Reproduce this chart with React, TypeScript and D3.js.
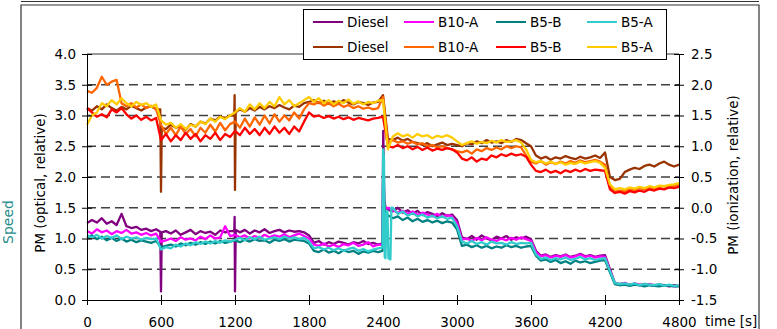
import React, { useEffect, useRef } from "react";
import * as d3 from "d3";

const W = 777;
const H = 329;

// sampling grid of the recorded traces (s)
const timeGrid = d3.range(0, 4801, 40);

const xTicks = [0, 600, 1200, 1800, 2400, 3000, 3600, 4200, 4800];
const yTicksLeft = [0, 0.5, 1, 1.5, 2, 2.5, 3, 3.5, 4];
const yTicksRight = [-1.5, -1, -0.5, 0, 0.5, 1, 1.5, 2, 2.5];
const gridLevels = [0.5, 1, 1.5, 2, 2.5, 3, 3.5];

// PM optical, relative (left axis)
const dieselOpt = [
  1.25, 1.3, 1.26, 1.33, 1.24, 1.28, 1.22, 1.4, 1.2, 1.17, 1.19, 1.14, 1.16, 1.12, 1.15,
  1.1, 1.12, 1.08, 1.13, 1.06, 1.1, 1.14, 1.07, 1.12, 1.09, 1.11, 1.06, 1.13, 1.1, 1.12,
  1.16, 1.1, 1.14, 1.08, 1.13, 1.1, 1.15, 1.09, 1.12, 1.14, 1.1, 1.13, 1.11, 1.12, 1.1,
  1.05, 0.93, 0.96, 0.9, 0.94, 0.91, 0.95, 0.93, 0.9, 0.94, 0.92, 0.96, 0.91, 0.93, 0.9,
  2.75, 1.47, 1.44, 1.5, 1.42, 1.46, 1.4, 1.45, 1.38, 1.43, 1.4, 1.36, 1.41, 1.37, 1.39,
  1.3, 1.02, 0.99, 1.04, 0.98, 1.05, 1.0, 0.97, 1.03, 1.0, 1.04, 0.98, 1.02, 1.0, 1.03,
  0.99, 0.8, 0.72, 0.74, 0.7, 0.73, 0.71, 0.74, 0.7, 0.72, 0.75, 0.71, 0.73, 0.7, 0.72,
  0.73, 0.5, 0.28, 0.26, 0.27, 0.25, 0.26, 0.24, 0.26, 0.25, 0.23, 0.25, 0.24, 0.22, 0.24,
  0.23,
];
const b10aOpt = [
  1.12, 1.08, 1.15, 1.1, 1.13, 1.07, 1.12, 1.09, 1.14, 1.08, 1.1, 1.06, 1.09, 1.05, 1.08,
  0.95, 0.97, 1.0, 0.96, 1.02, 0.98, 1.0, 0.97, 1.03, 0.99, 1.05, 1.0, 1.02, 1.2, 1.04,
  1.06, 1.02, 1.05, 1.0, 1.04, 1.01, 1.06, 1.02, 1.05, 1.03, 1.07, 1.02, 1.05, 1.08, 1.04,
  1.0, 0.9, 0.88, 0.92, 0.87, 0.9, 0.86, 0.91, 0.89, 0.93, 0.88, 0.9, 0.94, 0.87, 0.9,
  2.3, 1.5, 1.46, 1.42, 1.45, 1.4, 1.44, 1.38, 1.42, 1.39, 1.36, 1.4, 1.35, 1.38, 1.36,
  1.25, 0.98, 1.0, 0.96, 1.01, 0.97, 1.02, 0.98, 0.96, 1.0, 0.97, 1.01, 0.98, 1.02, 0.99,
  0.96, 0.78, 0.71, 0.73, 0.69, 0.72, 0.7, 0.73, 0.69, 0.71, 0.74, 0.7, 0.72, 0.69, 0.71,
  0.7, 0.48, 0.27, 0.25, 0.28, 0.24, 0.27, 0.25, 0.23, 0.26, 0.24, 0.25, 0.23, 0.24, 0.22,
  0.23,
];
const b5bOpt = [
  1.02, 1.05, 0.99, 1.03, 0.97, 1.01, 0.96, 1.0, 0.95, 0.98, 0.94, 0.97, 0.95, 0.93, 0.96,
  0.86, 0.88, 0.9, 0.87, 0.92, 0.89, 0.93, 0.9, 0.94, 0.91, 0.95, 0.92, 0.96, 0.93, 0.95,
  0.97, 0.94, 0.98, 0.95, 0.99, 0.96, 0.97, 0.93, 0.98, 0.96, 0.99, 0.95, 0.98, 0.97, 0.96,
  0.92, 0.8, 0.78, 0.82, 0.77, 0.8, 0.76, 0.81, 0.78, 0.8, 0.75, 0.79, 0.77, 0.8, 0.78,
  2.35, 1.38, 1.33, 1.36, 1.3, 1.34, 1.28, 1.32, 1.27, 1.3, 1.26, 1.29, 1.25, 1.28, 1.26,
  1.15, 0.88, 0.9, 0.86, 0.89, 0.85, 0.88, 0.84, 0.87, 0.85, 0.89, 0.86, 0.88, 0.85, 0.87,
  0.88, 0.72, 0.64, 0.66, 0.62, 0.65, 0.6, 0.63, 0.59, 0.64, 0.61, 0.63, 0.6, 0.62, 0.64,
  0.65, 0.45, 0.26, 0.24, 0.25, 0.23, 0.25, 0.24, 0.22, 0.24, 0.23, 0.22, 0.24, 0.23, 0.22,
  0.22,
];
const b5aOpt = [
  1.05, 1.02, 1.06, 1.0, 1.04, 1.01, 1.05, 0.99, 1.03, 1.0, 1.02, 0.98, 1.01, 0.99, 1.0,
  0.82, 0.86, 0.84, 0.9, 0.87, 0.92, 0.89, 0.94, 0.91, 0.95, 0.92, 0.96, 0.93, 0.97, 0.95,
  0.98, 1.01, 0.97, 1.02, 0.99, 1.03, 0.98, 1.0, 1.02, 0.99, 1.03, 1.0, 1.02, 0.99, 1.01,
  0.95, 0.84, 0.86, 0.82, 0.85, 0.81, 0.84, 0.8, 0.83, 0.85, 0.8, 0.83, 0.79, 0.82, 0.84,
  2.45, 1.45, 1.5, 1.4, 1.44, 1.37, 1.41, 1.36, 1.39, 1.34, 1.37, 1.33, 1.36, 1.32, 1.34,
  1.2, 0.95, 0.92, 0.96, 0.91, 0.94, 0.9, 0.95, 0.92, 0.93, 0.9, 0.94, 0.91, 0.93, 0.92,
  0.93, 0.74, 0.67, 0.69, 0.65, 0.68, 0.66, 0.69, 0.65, 0.67, 0.7, 0.66, 0.68, 0.65, 0.67,
  0.68, 0.47, 0.28, 0.26, 0.27, 0.25, 0.27, 0.24, 0.26, 0.25, 0.24, 0.26, 0.23, 0.25, 0.23,
  0.24,
];

// PM ionization, relative (right axis)
const dieselIon = [
  1.62, 1.58, 1.65, 1.6, 1.68, 1.62, 1.58, 1.64, 1.6, 1.66, 1.62, 1.58, 1.63, 1.65, 1.6,
  1.3, 1.28, 1.35, 1.3, 1.33, 1.27, 1.36, 1.32, 1.4, 1.37, 1.45, 1.42, 1.48, 1.46, 1.5,
  1.55, 1.6, 1.56, 1.62, 1.58, 1.64, 1.6, 1.65, 1.62, 1.67, 1.63, 1.6, 1.66, 1.64, 1.7,
  1.72, 1.75, 1.7, 1.74, 1.69, 1.73, 1.7, 1.75, 1.71, 1.68, 1.72, 1.7, 1.67, 1.71, 1.72,
  1.83, 1.12, 1.1, 1.14, 1.09, 1.12, 1.07, 1.05, 1.02, 1.05, 1.0, 1.03, 1.06, 1.02, 1.04,
  1.02, 1.0, 1.05, 1.03, 1.08, 1.05, 1.1, 1.06, 1.08, 1.05, 1.1, 1.07, 1.12, 1.1, 1.05,
  1.0, 0.85, 0.8, 0.83, 0.78, 0.82, 0.8, 0.84, 0.81, 0.79, 0.83, 0.8, 0.82, 0.85, 0.81,
  0.9, 0.5, 0.45, 0.47, 0.58, 0.62, 0.65, 0.63, 0.68, 0.7, 0.67, 0.72, 0.75, 0.7, 0.67,
  0.7,
];
const b10aIon = [
  1.9, 1.87, 1.95, 2.13, 2.0, 2.05, 2.08, 1.7, 1.65, 1.7, 1.63, 1.68, 1.62, 1.66, 1.6,
  1.35, 1.2, 1.3, 1.18, 1.32, 1.2, 1.28, 1.16, 1.3, 1.22, 1.35, 1.24, 1.38, 1.26, 1.36,
  1.4, 1.3, 1.45, 1.32, 1.47, 1.35, 1.5, 1.37, 1.52, 1.4, 1.5, 1.42, 1.55, 1.45, 1.6,
  1.7, 1.68, 1.72, 1.66, 1.7, 1.65, 1.69, 1.64, 1.67, 1.62, 1.65, 1.61, 1.63, 1.6, 1.62,
  1.8, 1.05, 1.1, 1.06, 1.08, 1.04, 1.07, 1.03, 1.05, 1.0, 1.02, 0.98, 1.0, 0.97, 0.95,
  0.92, 0.9, 0.93, 0.88, 0.95, 0.92, 0.97, 0.94, 0.98, 0.95, 1.0, 0.97, 1.0, 0.98, 0.85,
  0.75, 0.72, 0.76, 0.7, 0.74, 0.71, 0.75, 0.72, 0.76, 0.73, 0.77, 0.74, 0.76, 0.78, 0.75,
  0.7, 0.35, 0.26, 0.28, 0.27, 0.3, 0.28, 0.32, 0.3, 0.33, 0.31, 0.34, 0.35, 0.33, 0.36,
  0.37,
];
const b5bIon = [
  1.62, 1.55, 1.48, 1.52, 1.47, 1.6, 1.55, 1.62, 1.52, 1.45, 1.5, 1.43, 1.48, 1.42, 1.46,
  1.1, 1.2, 1.08, 1.18, 1.1, 1.22, 1.12, 1.2, 1.08, 1.18, 1.12, 1.22, 1.1, 1.2, 1.15,
  1.25, 1.18, 1.3, 1.2, 1.28, 1.18, 1.3, 1.2, 1.32, 1.22, 1.3, 1.2, 1.32, 1.24, 1.4,
  1.55, 1.48, 1.5, 1.46, 1.49, 1.45, 1.48, 1.44, 1.47, 1.43, 1.46, 1.44, 1.42, 1.45, 1.46,
  1.48, 1.0, 0.98, 1.02, 0.97, 1.0, 0.95, 0.99, 0.94, 0.98, 0.93, 0.96, 0.94, 0.97, 0.95,
  0.9, 0.8, 0.77, 0.82, 0.75, 0.8, 0.78, 0.85, 0.82, 0.87, 0.84, 0.88, 0.85, 0.87, 0.83,
  0.7, 0.6, 0.58, 0.62, 0.57, 0.6, 0.56, 0.61, 0.58, 0.62, 0.59, 0.63, 0.6, 0.62, 0.61,
  0.6, 0.3, 0.24, 0.26, 0.23, 0.27, 0.25, 0.28, 0.26, 0.3, 0.28, 0.31, 0.3, 0.33, 0.32,
  0.34,
];
const b5aIon = [
  1.35, 1.5, 1.55, 1.7, 1.65, 1.75, 1.68, 1.78, 1.7, 1.65, 1.72, 1.67, 1.7, 1.64, 1.68,
  1.42, 1.35, 1.38, 1.3, 1.36, 1.28, 1.35, 1.32, 1.4, 1.36, 1.45, 1.4, 1.48, 1.44, 1.5,
  1.55, 1.62, 1.56, 1.68, 1.6, 1.7, 1.62, 1.72, 1.65, 1.8, 1.68, 1.75, 1.65, 1.7, 1.75,
  1.8, 1.72, 1.78, 1.7, 1.75, 1.68, 1.74, 1.7, 1.76, 1.69, 1.73, 1.68, 1.72, 1.7, 1.74,
  1.75, 0.95, 1.16, 1.21, 1.16, 1.19, 1.14, 1.2, 1.16, 1.18, 1.13, 1.17, 1.15, 1.18, 1.14,
  1.08, 1.02, 1.05, 1.08, 1.04, 1.07, 1.05, 1.09, 1.06, 1.1, 1.07, 1.08, 1.1, 1.06, 0.95,
  0.78, 0.74, 0.76, 0.72, 0.75, 0.71, 0.74, 0.7, 0.73, 0.71, 0.75, 0.72, 0.74, 0.76, 0.73,
  0.65, 0.38, 0.3, 0.32, 0.3, 0.33, 0.31, 0.34, 0.32, 0.35, 0.33, 0.36, 0.35, 0.37, 0.38,
  0.4,
];

// short events recorded at finer resolution: [time, value]
const dieselOptEvents = [
  [[594, 1.11], [600, 0.14], [606, 1.1]],
  [[1194, 1.12], [1197, 1.35], [1200, 0.14], [1206, 1.14]],
  [[2396, 0.92], [2402, 2.75], [2410, 1.65], [2420, 1.5]],
];
const b10aOptEvents = [[[2396, 0.9], [2402, 2.3], [2410, 1.55], [2420, 1.48]]];
const b5bOptEvents = [[[2396, 0.8], [2402, 2.35], [2410, 1.6], [2425, 1.3]]];
const b5aOptEvents = [
  [[2396, 0.85], [2401, 2.45], [2408, 2.3], [2414, 0.7], [2420, 0.68], [2428, 1.4],
   [2436, 1.45], [2444, 0.68], [2460, 0.66], [2468, 1.5]],
];
const dieselIonEvents = [
  [[594, 1.6], [600, 0.26], [606, 1.3]],
  [[1194, 1.5], [1197, 1.83], [1200, 0.29], [1206, 1.55]],
];

const legendNames = ["Diesel", "B10-A", "B5-B", "B5-A"];
const opticalColors = ["#800080", "#ff00ff", "#008080", "#33cccc"];
const ionColors = ["#993300", "#ff6600", "#ff0000", "#ffcc00"];

const opticalSeries = [
  { values: dieselOpt, events: dieselOptEvents },
  { values: b10aOpt, events: b10aOptEvents },
  { values: b5bOpt, events: b5bOptEvents },
  { values: b5aOpt, events: b5aOptEvents },
];
const ionSeries = [
  { values: dieselIon, events: dieselIonEvents },
  { values: b10aIon, events: [] },
  { values: b5bIon, events: [] },
  { values: b5aIon, events: [] },
];

const buildPoints = (values: number[], events: number[][][]) => {
  let pts = timeGrid.map((t, i) => [t, values[i]]);
  events.forEach((ev) => {
    const lo = ev[0][0];
    const hi = ev[ev.length - 1][0];
    pts = pts.filter((p) => p[0] < lo || p[0] > hi).concat(ev);
  });
  return pts.sort((a, b) => a[0] - b[0]);
};

const App = () => {
  const svgRef = useRef<SVGSVGElement>(null);

  useEffect(() => {
    const svg = d3.select(svgRef.current);
    svg.selectAll("*").remove();

    const font = "'DejaVu Sans', sans-serif";
    const x = d3.scaleLinear().domain([0, 4800]).range([87, 679]);
    const yL = d3.scaleLinear().domain([0, 4]).range([300, 54]);
    const yR = d3.scaleLinear().domain([-1.5, 2.5]).range([300, 54]);

    // outer frame
    const frame = svg.append("g").attr("fill", "none").attr("stroke", "#333").attr("stroke-width", 1.2);
    frame.append("line").attr("x1", 21).attr("x2", 759).attr("y1", 1.5).attr("y2", 1.5);
    frame.append("path").attr("d", "M21,329V5H759V329");

    // label of the neighbouring figure at the page edge
    svg
      .append("text")
      .attr("transform", "translate(13,222) rotate(-90)")
      .attr("text-anchor", "middle")
      .attr("font-family", font)
      .attr("font-size", 14)
      .attr("fill", "#1f8c8c")
      .text("Speed");

    // dashed grid
    svg
      .append("g")
      .selectAll("line")
      .data(gridLevels)
      .join("line")
      .attr("x1", 87)
      .attr("x2", 679)
      .attr("y1", (d) => yL(d))
      .attr("y2", (d) => yL(d))
      .attr("stroke", "#404040")
      .attr("stroke-width", 1.3)
      .attr("stroke-dasharray", "9,5");

    svg
      .append("line")
      .attr("x1", 87)
      .attr("x2", 679)
      .attr("y1", yL(4))
      .attr("y2", yL(4))
      .attr("stroke", "#333")
      .attr("stroke-width", 1);

    // series
    const lineL = d3
      .line<number[]>()
      .x((d) => x(d[0]))
      .y((d) => yL(d[1]));
    const lineR = d3
      .line<number[]>()
      .x((d) => x(d[0]))
      .y((d) => yR(d[1]));

    const plot = svg.append("g").attr("fill", "none").attr("stroke-width", 2.3).attr("stroke-linejoin", "round");
    opticalSeries.forEach((s, i) => {
      plot.append("path").attr("d", lineL(buildPoints(s.values, s.events))).attr("stroke", opticalColors[i]);
    });
    ionSeries.forEach((s, i) => {
      plot.append("path").attr("d", lineR(buildPoints(s.values, s.events))).attr("stroke", ionColors[i]);
    });

    // axes
    const styleAxis = (g: any) => {
      g.select(".domain").attr("stroke", "#000");
      g.selectAll(".tick line").attr("stroke", "#000");
      g.selectAll("text").attr("font-family", font).attr("font-size", 13.5).attr("fill", "#000");
    };

    const axL = svg
      .append("g")
      .attr("transform", "translate(87,0)")
      .call(d3.axisLeft(yL).tickValues(yTicksLeft).tickFormat((d: any) => d.toFixed(1)).tickSize(5).tickSizeOuter(0).tickPadding(6));
    axL.selectAll(".tick line").attr("x1", 5);
    styleAxis(axL);

    const axR = svg
      .append("g")
      .attr("transform", "translate(679,0)")
      .call(d3.axisRight(yR).tickValues(yTicksRight).tickFormat((d: any) => d.toFixed(1)).tickSize(5).tickSizeOuter(0).tickPadding(7));
    axR.selectAll(".tick line").attr("x1", -5);
    styleAxis(axR);

    const axB = svg
      .append("g")
      .attr("transform", "translate(0,300)")
      .call(d3.axisBottom(x).tickValues(xTicks).tickFormat(d3.format("d")).tickSize(5).tickSizeOuter(0).tickPadding(12));
    axB.selectAll(".tick line").attr("y1", -5);
    styleAxis(axB);

    svg
      .append("text")
      .attr("x", 705)
      .attr("y", 326)
      .attr("font-family", font)
      .attr("font-size", 13.5)
      .text("time [s]");

    svg
      .append("text")
      .attr("transform", "translate(40,183) rotate(-90)")
      .attr("text-anchor", "middle")
      .attr("dominant-baseline", "central")
      .attr("font-family", font)
      .attr("font-size", 13.5)
      .text("PM (optical, relative)");

    svg
      .append("text")
      .attr("transform", "translate(733,175) rotate(-90)")
      .attr("text-anchor", "middle")
      .attr("dominant-baseline", "central")
      .attr("font-family", font)
      .attr("font-size", 13.5)
      .text("PM (ionization, relative)");

    // legend
    const legend = svg.append("g");
    legend
      .append("rect")
      .attr("x", 303.5)
      .attr("y", 9.5)
      .attr("width", 363)
      .attr("height", 50)
      .attr("fill", "#fff")
      .attr("stroke", "#000");
    const colX = [313, 404, 496, 587];
    const rows = [
      { y: 22, colors: opticalColors },
      { y: 47, colors: ionColors },
    ];
    rows.forEach((r) => {
      legendNames.forEach((name, i) => {
        legend
          .append("line")
          .attr("x1", colX[i])
          .attr("x2", colX[i] + 30)
          .attr("y1", r.y)
          .attr("y2", r.y)
          .attr("stroke", r.colors[i])
          .attr("stroke-width", 2);
        legend
          .append("text")
          .attr("x", colX[i] + 34)
          .attr("y", r.y)
          .attr("dy", "0.36em")
          .attr("font-family", font)
          .attr("font-size", 13.5)
          .text(name);
      });
    });
  }, []);

  return (
    <svg
      ref={svgRef}
      width={W}
      height={H}
      style={{ position: "absolute", left: 0, top: 0, background: "#fff" }}
    />
  );
};

export default App;
